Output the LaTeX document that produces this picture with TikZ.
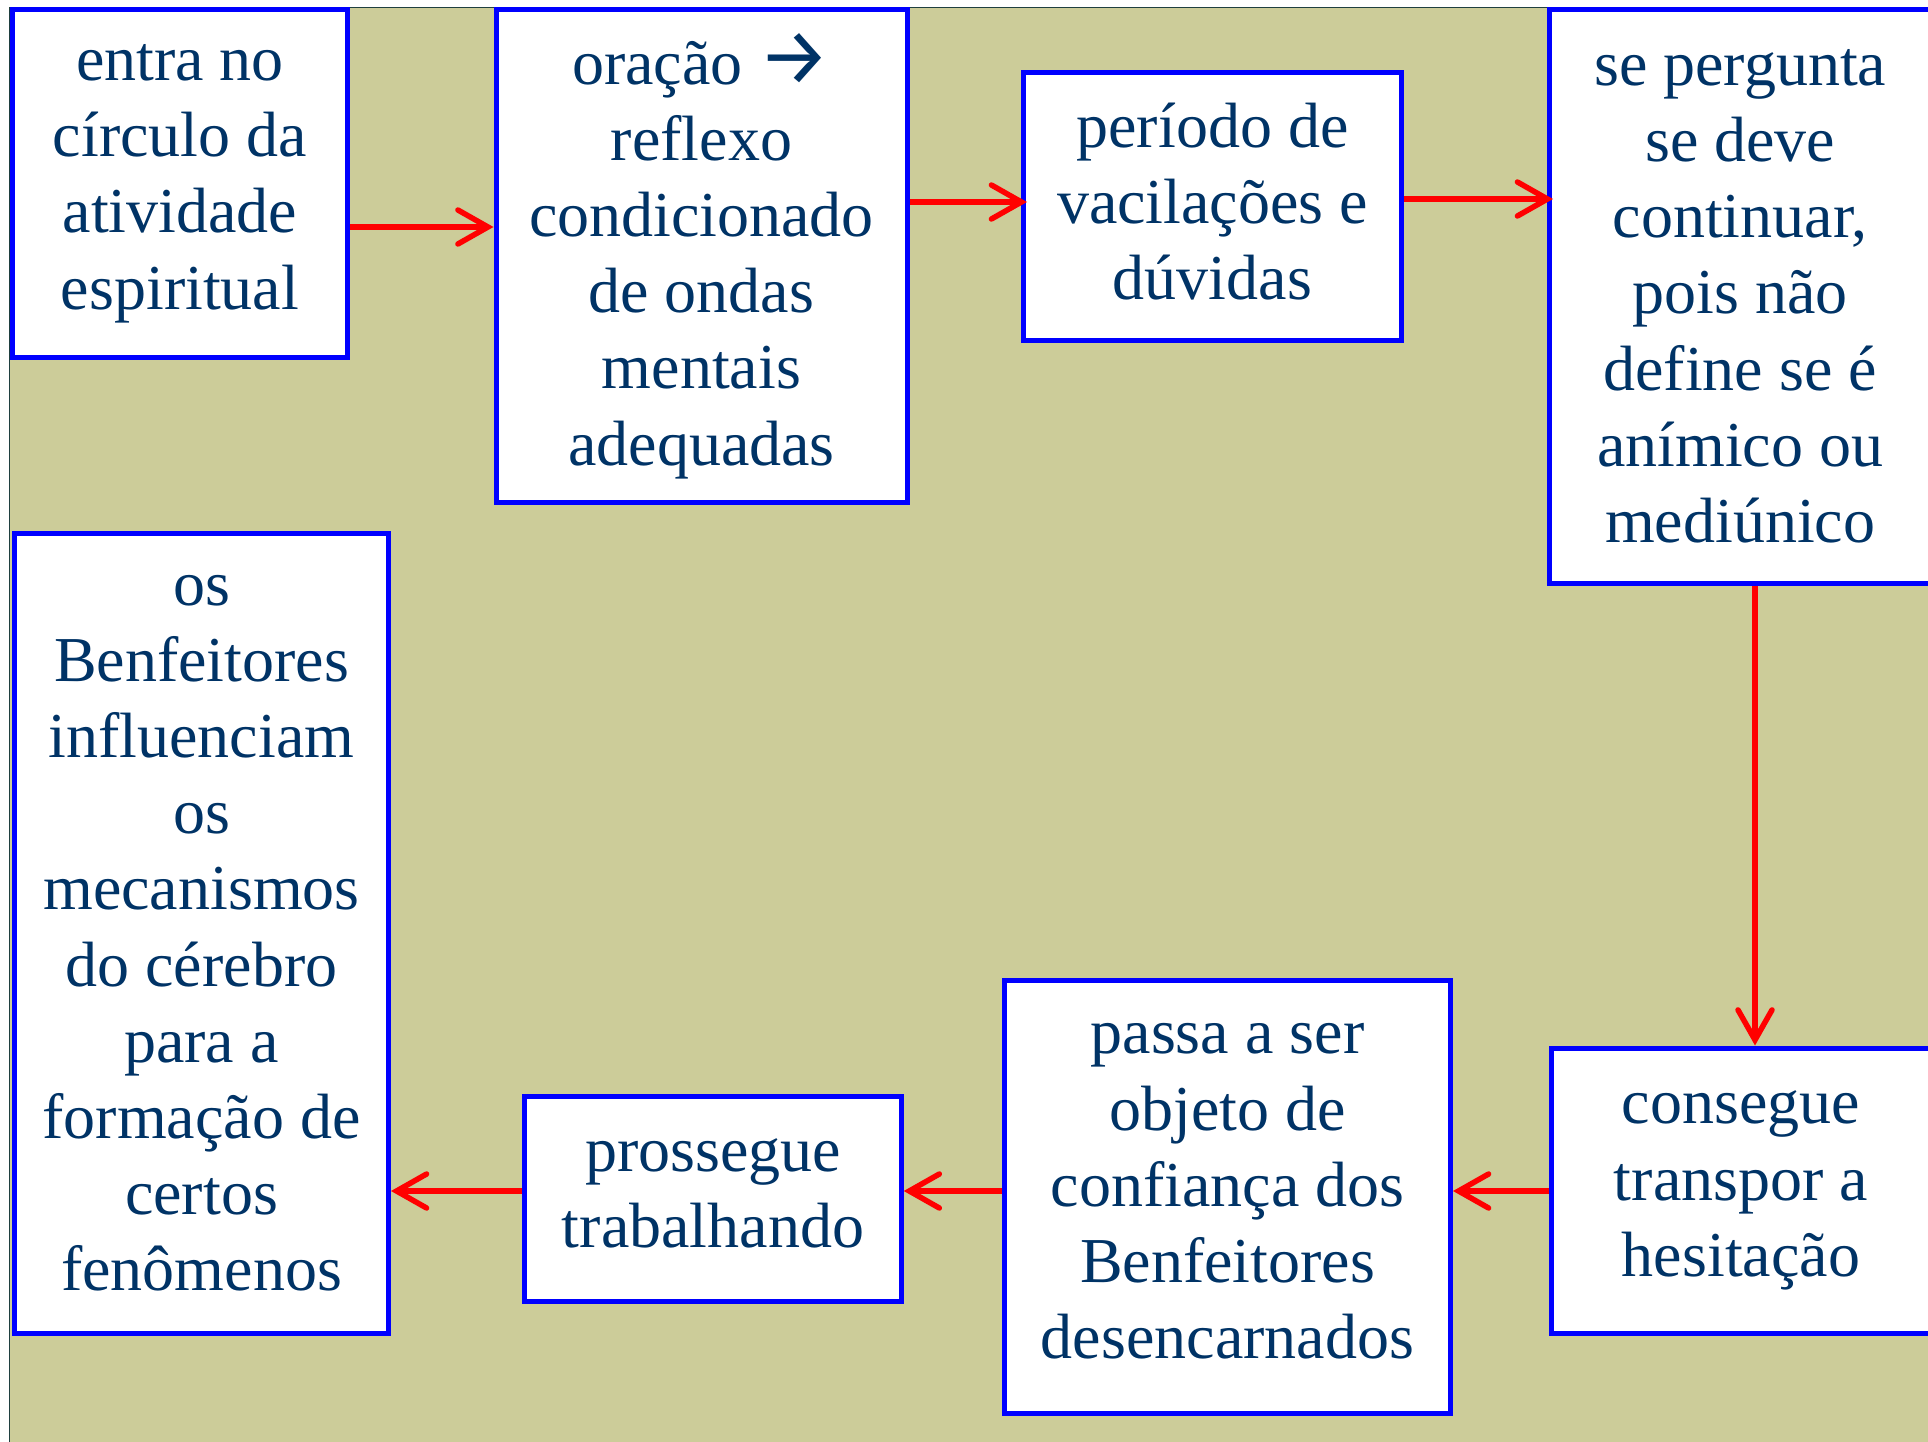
\documentclass[tikz,border=0pt]{standalone}
\usepackage{fontspec}
\setmainfont{Liberation Serif}
\newfontfamily\arrowfont{Fira Sans}
\usetikzlibrary{arrows.meta}
\definecolor{bg}{HTML}{CCCC99}
\definecolor{txt}{HTML}{003366}
\definecolor{boxblue}{HTML}{0000FF}
\definecolor{arrred}{HTML}{FF0000}
\definecolor{frame}{HTML}{1F3F3F}
\begin{document}
\begin{tikzpicture}[x=1pt,y=-1pt,
  stepfont/.style={text=txt, align=center, inner sep=0pt, font=\fontsize{64}{76.2}\selectfont},
  stepbox/.style={draw=boxblue, line width=5pt, fill=white, stepfont},
  uptext/.style={label={[stepfont, yshift=5pt]center:{#1}}},
  arr/.style={draw=arrred, line width=5.5pt, -{Straight Barb[length=30pt,width=34pt,line cap=round]}}
]
\useasboundingbox (0,0) rectangle (1928,1442);
\clip (0,0) rectangle (1928,1442);
\fill[bg] (10,7) rectangle (1928,1442);
\draw[frame, line width=1.5pt] (9.5,1442) -- (9.5,7.5) -- (1928,7.5);

\node[stepbox, minimum width=335pt, minimum height=348pt] (b1) at (180,183.5)
  {entra no\\círculo da\\atividade\\espiritual};
\node[stepbox, minimum width=411pt, minimum height=493pt] (b2) at (701.5,256)
  {oração {\arrowfont\fontsize{80}{76.2}\selectfont →}\\reflexo\\condicionado\\de ondas\\mentais\\adequadas};
\node[stepbox, minimum width=378pt, minimum height=268pt,
  uptext={período de\\vacilações e\\dúvidas}] (b3) at (1212.5,206.5) {};
\node[stepbox, minimum width=381.5pt, minimum height=573.5pt] (b4) at (1740.25,296.25)
  {se pergunta\\se deve\\continuar,\\pois não\\define se é\\anímico ou\\mediúnico};
\node[stepbox, minimum width=380pt, minimum height=285pt] (b5) at (1741,1190.5)
  {consegue\\transpor a\\hesitação};
\node[stepbox, minimum width=446pt, minimum height=433pt,
  uptext={passa a ser\\objeto de\\confiança dos\\Benfeitores\\desencarnados}] (b6) at (1227.5,1196.5) {};
\node[stepbox, minimum width=376.5pt, minimum height=204.5pt,
  uptext={prossegue\\trabalhando}] (b7) at (713,1198.75) {};
\node[stepbox, minimum width=374pt, minimum height=799.5pt] (b8) at (201.5,933.25)
  {os\\Benfeitores\\influenciam\\os\\mecanismos\\do cérebro\\para a\\formação de\\certos\\fenômenos};

\draw[arr] (b1.east |- 0,227) -- (b2.west |- 0,227);
\draw[arr, shorten >=-6pt] (b2.east |- 0,202) -- (b3.west |- 0,202);
\draw[arr, shorten >=-6pt] (b3.east |- 0,199) -- (b4.west |- 0,199);
\draw[arr] (b4.south -| 1755,0) -- (b5.north -| 1755,0);
\draw[arr] (b5.west |- 0,1191) -- (b6.east |- 0,1191);
\draw[arr] (b6.west |- 0,1191) -- (b7.east |- 0,1191);
\draw[arr] (b7.west |- 0,1191) -- (b8.east |- 0,1191);
\end{tikzpicture}
\end{document}
